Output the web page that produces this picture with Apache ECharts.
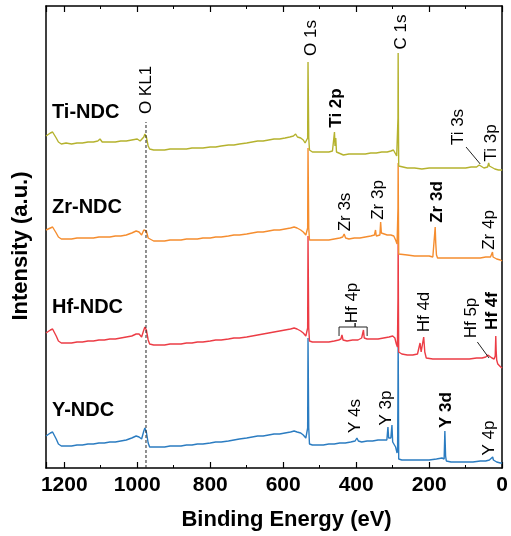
<!DOCTYPE html>
<html>
<head>
<meta charset="utf-8">
<script src="https://cdn.jsdelivr.net/npm/echarts@6/dist/echarts.min.js"></script>
<style>
  html, body { margin: 0; padding: 0; background: #fff; }
  #chart { width: 511px; height: 536px; }
</style>
</head>
<body>
<div id="chart"></div>
<script>
// binding energy (eV), stacked intensity (a.u., offset per sample)
var tiNDC = [
  [1250,332],[1245,333],[1238,335],[1232,336],[1228,334],[1222,330],[1216,326],[1208,324],[1195,325],[1180,324],
  [1165,325],[1150,325],[1135,326],[1120,326],[1108,327],[1102,329],[1096,326],[1080,326],[1060,326],[1045,327],
  [1030,327],[1015,328],[1000,329],[992,327],[987,325],[982,331],[979,334],[975,331],[970,322],[966,319],
  [955,318],[940,318],[925,318],[910,319],[895,319],[880,319],[865,319],[850,320],[835,320],[820,320],
  [800,321],[785,321],[770,322],[750,323],[735,323],[720,324],[700,325],[685,326],[670,327],[655,327],
  [640,328],[625,329],[610,329],[595,330],[582,331],[572,332],[566,334],[561,331],[552,330],[545,328],
  [540,325],[535,323],[533,330],[532,406],[530,330],[528,318],[520,316],[505,316],[490,316],[475,316],
  [465,317],[461,318],[459.5,336],[458,322],[456,330],[454,316],[450,314],[435,313],[420,314],[405,314],
  [390,314],[375,314],[360,315],[345,315],[330,316],[315,316],[305,317],[298,318],[293,316],[289,312],
  [287,310],[285.5,350],[285,415],[284.3,350],[283.5,302],[280,300],[260,300],[240,300],[220,299],[200,300],
  [180,300],[160,300],[140,300],[120,300],[100,300],[85,301],[70,301],[63,303],[60,301],[50,300],
  [40,301],[37,305],[35,302],[30,300],[20,299],[10,298],[0,298]
];
var zrNDC = [
  [1250,238],[1245,239],[1238,240],[1232,241],[1228,239],[1222,235],[1216,231],[1208,229],[1195,229],[1180,229],
  [1165,230],[1150,230],[1135,230],[1120,230],[1105,231],[1090,231],[1075,231],[1060,232],[1045,232],[1030,233],
  [1015,235],[1003,237],[995,236],[988,233],[982,238],[979,240],[975,237],[970,230],[966,228],[955,227],
  [940,227],[925,227],[910,228],[895,228],[880,228],[865,229],[850,229],[835,229],[820,230],[800,230],
  [785,231],[770,231],[750,232],[735,233],[720,233],[700,234],[685,235],[670,236],[655,236],[640,237],
  [625,238],[610,238],[595,239],[580,240],[570,241],[562,240],[552,238],[545,236],[538,233],[534,231],
  [533,240],[532,320],[530,240],[528,228],[520,228],[505,228],[490,228],[475,228],[460,229],[445,230],
  [437,231],[433,234],[429,230],[420,229],[405,230],[390,230],[375,231],[360,232],[350,233],[347,238],
  [345,232],[340,232],[335,233],[333,246],[331,235],[328,233],[315,233],[305,233],[297,232],[292,228],
  [288,224],[287,222],[285.5,260],[285,305],[284.3,260],[283.5,214],[280,213],[260,213],[240,212],[220,212],
  [200,212],[190,211],[185,212],[183.5,241],[182,225],[180,213],[177,210],[160,210],[140,210],[120,210],
  [100,210],[80,210],[60,210],[45,211],[32,211],[28,212],[26.5,216],[25,211],[15,209],[5,208],[0,207]
];
var hfNDC = [
  [1250,135],[1245,136],[1238,138],[1232,139],[1228,137],[1222,132],[1216,127],[1208,125],[1195,125],[1180,125],
  [1165,126],[1150,126],[1135,127],[1120,127],[1105,128],[1090,128],[1075,129],[1060,129],[1045,130],[1030,131],
  [1015,132],[1003,134],[995,134],[988,131],[982,138],[979,141],[975,138],[970,128],[966,124],[955,123],
  [940,123],[925,123],[910,124],[895,124],[880,124],[865,125],[850,125],[835,126],[820,126],[800,127],
  [785,128],[770,128],[750,129],[735,130],[720,130],[700,131],[685,132],[670,133],[655,134],[640,135],
  [625,136],[610,137],[595,138],[580,139],[570,140],[562,139],[552,137],[545,135],[538,132],[534,130],
  [533,140],[532,232],[530,140],[528,127],[520,126],[505,126],[490,126],[475,126],[460,127],[448,128],
  [442,129],[439,133],[436,128],[425,127],[410,128],[395,128],[385,130],[382,135],[380,138],[378,130],
  [370,129],[355,129],[340,129],[325,130],[310,131],[300,132],[294,130],[290,124],[287,121],[285.5,170],
  [285,232],[284.3,170],[283.5,116],[275,114],[260,113],[245,113],[232,114],[227,116],[225,125],[222,116],
  [218,117],[215,131],[212,116],[208,110],[190,109],[170,109],[150,109],[130,109],[110,109],[90,109],
  [70,110],[55,110],[45,111],[39,113],[35,111],[28,110],[22,109],[19,112],[17.5,132],[16.5,118],
  [15,108],[12,104],[8,102],[4,101],[0,100]
];
var yNDC = [
  [1250,32],[1245,33],[1238,35],[1232,36],[1228,34],[1222,29],[1216,24],[1208,22],[1195,22],[1180,22],
  [1165,23],[1150,23],[1135,24],[1120,24],[1105,25],[1090,25],[1075,26],[1060,26],[1045,27],[1030,28],
  [1015,30],[1003,32],[995,31],[988,29],[982,37],[979,40],[975,36],[970,25],[966,21],[955,21],
  [940,21],[925,21],[910,22],[895,22],[880,22],[865,23],[850,23],[835,24],[820,24],[800,25],
  [785,26],[770,26],[750,27],[735,28],[720,29],[700,30],[685,31],[670,32],[655,32],[640,33],
  [625,34],[610,34],[595,35],[580,36],[570,37],[562,36],[552,35],[545,33],[538,30],[534,28],
  [533,40],[532,130],[530,40],[528,24],[520,23],[505,23],[490,23],[475,24],[460,24],[445,25],
  [430,25],[415,26],[403,27],[398,30],[394,27],[385,26],[370,27],[355,27],[340,28],[325,28],
  [316,28],[313,41],[311,30],[309,29],[305,30],[302,43],[300,26],[296,24],[292,21],[288,15],
  [286.5,20],[285.5,80],[285,130],[284.3,80],[283.5,9],[275,8],[260,8],[240,8],[220,8],[200,8],
  [180,9],[165,10],[159,9],[157,37],[155,12],[153,7],[140,6],[120,6],[100,6],[80,6],
  [60,7],[45,7],[35,8],[30,8],[26,11],[24,8],[15,6],[5,5],[0,5]
];

var sampleNames = [['Ti-NDC', 356], ['Zr-NDC', 261], ['Hf-NDC', 161], ['Y-NDC', 58]];
var sampleColors = ['#b5b22e', '#f58d2f', '#ec3c45', '#2b7cc1'];

// [BE, intensity, text, bold]
var peakLabels = [
  [976, 378, 'O KL1', 0],
  [523, 430, 'O 1s', 0],
  [277, 436, 'C 1s', 0],
  [455, 360, 'Ti 2p', 1],
  [120, 341, 'Ti 3s', 0],
  [30, 325, 'Ti 3p', 0],
  [430, 256, 'Zr 3s', 0],
  [340, 268, 'Zr 3p', 0],
  [179, 266, 'Zr 3d', 1],
  [36, 238, 'Zr 4p', 0],
  [411, 165, 'Hf 4p', 0],
  [214, 156, 'Hf 4d', 0],
  [85, 150, 'Hf 5p', 0],
  [27, 157, 'Hf 4f', 1],
  [403, 52, 'Y 4s', 0],
  [318, 60, 'Y 3p', 0],
  [153, 58, 'Y 3d', 1],
  [36, 30, 'Y 4p', 0]
];
var oklLine = [[976, 0], [976, 346]];
var ti3sLeader = [[99, 321], [60, 304]];
var hf5pLeader = [[68, 126], [36, 110]];
var hf4pBracket = [[447, 132], [447, 141], [403, 141], [403, 145], [403, 141], [370, 141], [370, 132]];

var font = "'Liberation Sans', Arial, sans-serif";
var xTicks = { min: 0, max: 1250, interval: 200 };

var series = [];
var traces = [yNDC, hfNDC, zrNDC, tiNDC];
var traceColors = [sampleColors[3], sampleColors[2], sampleColors[1], sampleColors[0]];
var traceNames = ['Y-NDC', 'Hf-NDC', 'Zr-NDC', 'Ti-NDC'];
traces.forEach(function (d, i) {
  series.push({
    name: traceNames[i],
    type: 'line',
    data: d,
    showSymbol: false,
    symbol: 'none',
    lineStyle: { color: traceColors[i], width: 1.4 },
    silent: true,
    z: 2 + i
  });
});
series.push({
  type: 'line', data: oklLine, symbol: 'none', silent: true, z: 10,
  lineStyle: { color: '#222', width: 1, type: [3, 2] }
});
[ti3sLeader, hf5pLeader, hf4pBracket].forEach(function (d) {
  series.push({
    type: 'line', data: d, symbol: 'none', silent: true, z: 10,
    lineStyle: { color: '#222', width: 1 }
  });
});
series.push({
  type: 'scatter',
  silent: true,
  symbolSize: 1,
  itemStyle: { color: 'rgba(0,0,0,0)', opacity: 1 },
  z: 12,
  label: {
    show: true, position: 'inside', rotate: 90,
    color: '#000', fontSize: 17, fontFamily: font,
    formatter: function (p) { return p.value[2]; }
  },
  data: peakLabels.map(function (a) {
    return { value: [a[0], a[1], a[2]], label: { fontWeight: a[3] ? 'bold' : 'normal' } };
  })
});
series.push({
  type: 'scatter',
  silent: true,
  symbolSize: 1,
  itemStyle: { color: 'rgba(0,0,0,0)', opacity: 1 },
  z: 12,
  label: {
    show: true, position: 'right', distance: 0,
    color: '#000', fontSize: 20, fontWeight: 'bold', fontFamily: font,
    formatter: function (p) { return p.value[2]; }
  },
  data: sampleNames.map(function (s) { return [1235, s[1], s[0]]; })
});

var option = {
  animation: false,
  backgroundColor: '#fff',
  grid: { left: 46, right: 8, top: 6, bottom: 68 },
  xAxis: [
    {
      type: 'value', inverse: true, min: xTicks.min, max: xTicks.max, interval: xTicks.interval,
      position: 'bottom',
      name: 'Binding Energy (eV)', nameLocation: 'middle', nameGap: 41,
      nameTextStyle: { color: '#000', fontSize: 22, fontWeight: 'bold', fontFamily: font, padding: [0, 0, 0, 25] },
      axisLine: { onZero: false, lineStyle: { color: '#000', width: 1.5 } },
      axisTick: { inside: true, length: 6, lineStyle: { color: '#000', width: 1.2 } },
      minorTick: { show: true, splitNumber: 2, length: 3, lineStyle: { color: '#000', width: 1 } },
      axisLabel: { color: '#000', fontSize: 21, fontWeight: 'bold', fontFamily: font, margin: 7,
        showMaxLabel: false, showMinLabel: true, hideOverlap: false,
        formatter: function (v) { return String(v); } },
      splitLine: { show: false }
    },
    {
      type: 'value', inverse: true, min: xTicks.min, max: xTicks.max, interval: xTicks.interval,
      position: 'top',
      axisLine: { onZero: false, lineStyle: { color: '#000', width: 1.5 } },
      axisTick: { inside: true, length: 6, lineStyle: { color: '#000', width: 1.2 } },
      minorTick: { show: true, splitNumber: 2, length: 3, lineStyle: { color: '#000', width: 1 } },
      axisLabel: { show: false },
      splitLine: { show: false }
    }
  ],
  yAxis: [
    {
      type: 'value', min: 0, max: 462, position: 'left',
      name: 'Intensity (a.u.)', nameLocation: 'middle', nameGap: 14,
      nameTextStyle: { color: '#000', fontSize: 22, fontWeight: 'bold', fontFamily: font, padding: [0, 18, 0, 0] },
      axisLine: { show: true, onZero: false, lineStyle: { color: '#000', width: 1.5 } },
      axisTick: { show: false },
      axisLabel: { show: false },
      splitLine: { show: false }
    },
    {
      type: 'value', min: 0, max: 462, position: 'right',
      axisLine: { show: true, onZero: false, lineStyle: { color: '#000', width: 1.5 } },
      axisTick: { show: false },
      axisLabel: { show: false },
      splitLine: { show: false }
    }
  ],
  series: series
};

echarts.init(document.getElementById('chart')).setOption(option);
</script>
</body>
</html>
